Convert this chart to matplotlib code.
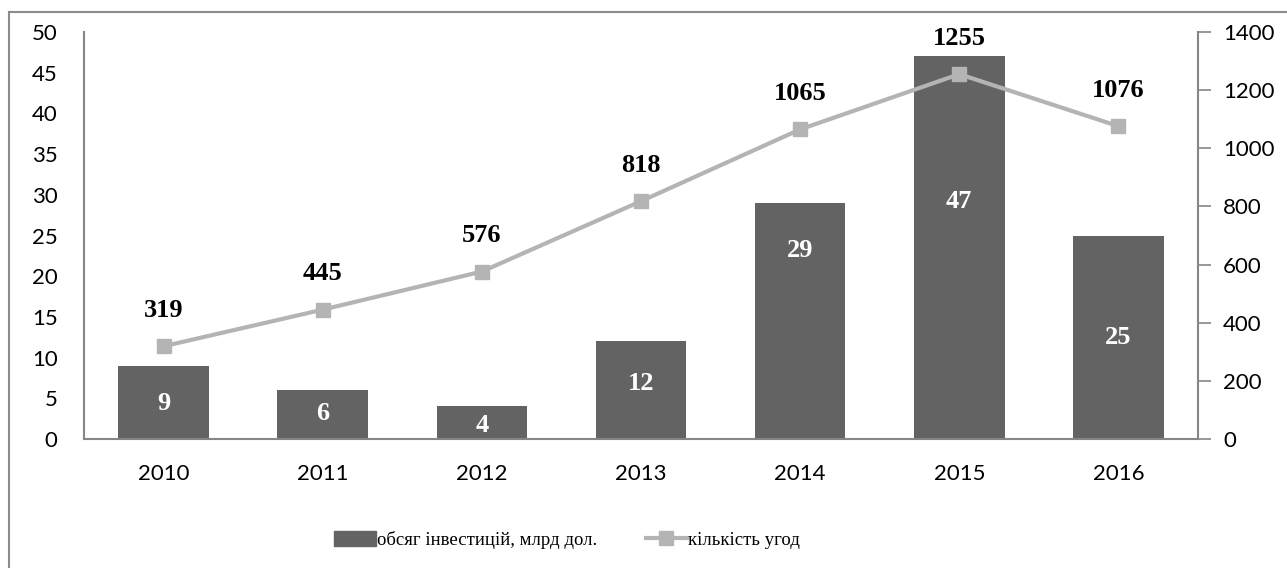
import matplotlib.pyplot as plt
from matplotlib.lines import Line2D
from matplotlib.patches import Patch

years = ['2010', '2011', '2012', '2013', '2014', '2015', '2016']
invest = [9, 6, 4, 12, 29, 47, 25]
deals = [319, 445, 576, 818, 1065, 1255, 1076]
# доля висоти стовпця, де стоїть підпис
label_frac = [0.49, 0.52, 0.42, 0.57, 0.80, 0.62, 0.50]

bar_color = '#636363'
line_color = '#b4b4b4'
axis_color = '#868686'
tick_font = 'Lato'
serif = 'Liberation Serif'

fig = plt.figure(figsize=(12.87, 5.68), dpi=100)
W, H = 1287, 568
ax = fig.add_axes([84 / W, 1 - 439 / H, (1198 - 84) / W, (439 - 32) / H])
ax2 = ax.twinx()

x = list(range(len(years)))
ax.bar(x, invest, width=0.57, color=bar_color, zorder=2)
ax.set_xlim(-0.5, len(years) - 0.5)
ax.set_ylim(0, 50)
ax.set_yticks(range(0, 51, 5))
ax.set_xticks(x)
ax.set_xticklabels(years)

ax2.plot(x, deals, color=line_color, lw=3, marker='s', ms=10, zorder=3)
ax2.set_ylim(0, 1400)
ax2.set_yticks(range(0, 1401, 200))

ax.spines['top'].set_visible(False)
ax2.spines['top'].set_visible(False)
ax.spines['right'].set_visible(False)
ax2.spines['left'].set_visible(False)
ax2.spines['bottom'].set_visible(False)
ax.spines['left'].set_color(axis_color)
ax.spines['left'].set_linewidth(1.5)
ax.spines['bottom'].set_color(axis_color)
ax.spines['bottom'].set_linewidth(1.5)
ax2.spines['right'].set_color(axis_color)
ax2.spines['right'].set_linewidth(1.5)

ax.tick_params(axis='y', length=0, pad=19, labelsize=16)
ax.tick_params(axis='x', length=0, pad=18, labelsize=16)
ax2.tick_params(axis='y', length=9, width=1.2, color=axis_color, pad=9, labelsize=16)
for lab in ax.get_xticklabels() + ax.get_yticklabels() + ax2.get_yticklabels():
    lab.set_fontfamily(tick_font)

for i, v in enumerate(invest):
    ax.text(i, v * label_frac[i], str(v), ha='center', va='center', color='white',
            fontsize=19, fontweight='bold', family=serif, zorder=4)

for i, v in enumerate(deals):
    ax2.annotate(str(v), (i, v), xytext=(0, 26), textcoords='offset points',
                 ha='center', va='center', fontsize=19, fontweight='bold',
                 family=serif, zorder=4)

handles = [Patch(color=bar_color),
           Line2D([], [], color=line_color, lw=3, marker='s', ms=10)]
fig.legend(handles, ['обсяг інвестицій, млрд дол.', 'кількість угод'],
           loc='center', bbox_to_anchor=(567 / W, 1 - 540 / H), ncol=2, frameon=False,
           prop={'family': serif, 'size': 13.5}, handlelength=2.2, handleheight=0.8,
           handletextpad=0.05, columnspacing=2.6)

# рамка діаграми
fig.add_artist(Line2D([9 / W, 9 / W], [0, 1 - 12 / H], color='#8c8c8c', lw=1.5))
fig.add_artist(Line2D([9 / W, 1], [1 - 12 / H, 1 - 12 / H], color='#8c8c8c', lw=1.5))

fig.savefig('out.png', dpi=100)
